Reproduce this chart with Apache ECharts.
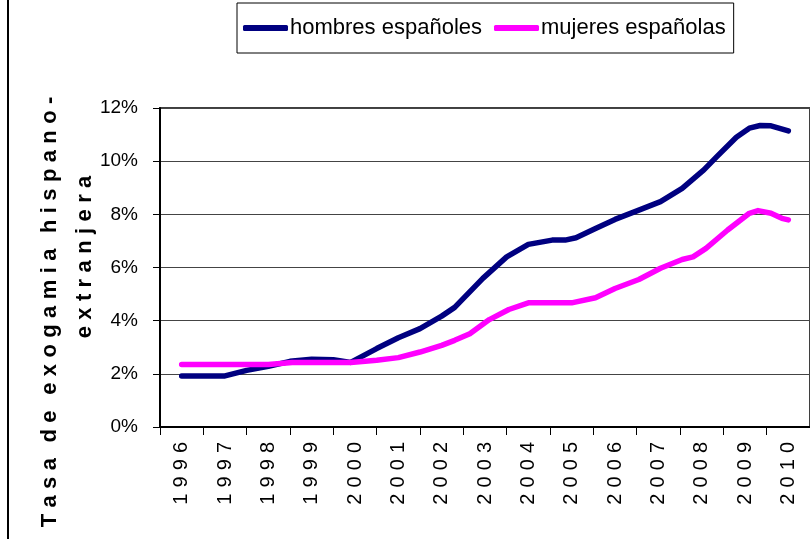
<!DOCTYPE html>
<html>
<head>
<meta charset="utf-8">
<script src="https://cdn.jsdelivr.net/npm/echarts@6/dist/echarts.min.js"></script>
<style>
html, body { margin: 0; padding: 0; background: #fff; }
#chart { width: 810px; height: 539px; }
</style>
</head>
<body>
<div id="chart"></div>
<script>
// year labels on the category axis
var years = ['1996', '1997', '1998', '1999', '2000', '2001', '2002', '2003',
  '2004', '2005', '2006', '2007', '2008', '2009', '2010'];

// hombres españoles: time (year) and tasa (%)
var hombresT = [1996, 1997, 1997.5, 1998, 1998.5, 1999, 1999.5, 1999.9, 2000.5, 2001,
  2001.5, 2002, 2002.3, 2002.95, 2003.5, 2004, 2004.55, 2004.85, 2005.1, 2005.55,
  2006, 2006.55, 2007.05, 2007.55, 2008.05, 2008.35, 2008.8, 2009.1, 2009.35, 2009.6, 2010];
var hombresV = [1.92, 1.92, 2.13, 2.28, 2.47, 2.55, 2.53, 2.43, 2.95, 3.36,
  3.70, 4.17, 4.50, 5.59, 6.40, 6.87, 7.03, 7.03, 7.12, 7.47,
  7.81, 8.16, 8.48, 8.98, 9.67, 10.17, 10.90, 11.24, 11.34, 11.33, 11.14];

// mujeres españolas
var mujeresT = [1996, 1998, 1998.55, 1999.9, 2000.5, 2001, 2001.5, 2002, 2002.3, 2002.65,
  2003.1, 2003.55, 2004, 2005, 2005.55, 2006, 2006.55, 2007.05, 2007.55, 2007.8,
  2008.1, 2008.6, 2009.1, 2009.3, 2009.6, 2009.85, 2010];
var mujeresV = [2.35, 2.35, 2.43, 2.43, 2.51, 2.61, 2.82, 3.07, 3.26, 3.51,
  4.04, 4.42, 4.67, 4.67, 4.86, 5.21, 5.55, 5.97, 6.30, 6.40,
  6.72, 7.41, 8.04, 8.14, 8.04, 7.85, 7.79];

var font = "'Liberation Sans', Arial, sans-serif";

function pairs(t, v) {
  return t.map(function (x, i) { return [x, v[i]]; });
}
// letter-spaced text: {g| } between letters, {w| } between words
function spaced(s) {
  return s.split(' ').map(function (w) {
    return w.split('').join('{g| }');
  }).join('{w| }');
}

var titleRich = {
  g: { fontSize: 23, fontWeight: 'bold', fontFamily: font, lineHeight: 26 },
  w: { fontSize: 56, fontWeight: 'bold', fontFamily: font, lineHeight: 26 }
};

var chart = echarts.init(document.getElementById('chart'));
chart.setOption({
  animation: false,
  backgroundColor: '#fff',
  legend: {
    left: 237,
    top: 3,
    padding: [14, 8, 14, 6],
    itemWidth: 45,
    itemHeight: 6,
    itemGap: 12,
    icon: 'roundRect',
    borderColor: '#000',
    borderWidth: 1,
    textStyle: { fontSize: 22, fontFamily: font, color: '#000', padding: [0, 0, 0, -3] },
    data: ['hombres españoles', 'mujeres españolas']
  },
  grid: {
    left: 160,
    right: 0,
    top: 108,
    bottom: 112,
    show: true,
    borderColor: '#000',
    borderWidth: 1.5
  },
  xAxis: [
    {
      type: 'category',
      data: years,
      boundaryGap: true,
      axisLine: { lineStyle: { color: '#000', width: 2 } },
      axisTick: { show: true, length: 8, lineStyle: { color: '#000' } },
      axisLabel: {
        rotate: 90,
        margin: 15,
        fontSize: 20,
        fontFamily: font,
        color: '#000',
        formatter: function (v) { return spaced(v); },
        rich: { g: { fontSize: 22, fontFamily: font, lineHeight: 22 } }
      },
      splitLine: { show: false }
    },
    {
      type: 'value',
      min: 1995.5,
      max: 2010.5,
      show: false
    }
  ],
  yAxis: {
    type: 'value',
    min: 0,
    max: 12,
    interval: 2,
    axisLine: { show: true, lineStyle: { color: '#000', width: 2 } },
    axisTick: { show: true, length: 7, lineStyle: { color: '#000' } },
    axisLabel: {
      margin: 22,
      fontSize: 19,
      fontFamily: font,
      color: '#000',
      formatter: '{value}%'
    },
    splitLine: { lineStyle: { color: '#444', width: 1 } }
  },
  graphic: [
    {
      type: 'line',
      shape: { x1: 8, y1: 0, x2: 8, y2: 539 },
      style: { stroke: '#000', lineWidth: 2 }
    },
    {
      type: 'text',
      x: 50,
      y: 312,
      rotation: Math.PI / 2,
      style: {
        text: spaced('Tasa de exogamia hispano-'),
        fontSize: 22,
        fontWeight: 'bold',
        fontFamily: font,
        fill: '#000',
        align: 'center',
        verticalAlign: 'middle',
        lineHeight: 26,
        rich: titleRich
      }
    },
    {
      type: 'text',
      x: 85,
      y: 257,
      rotation: Math.PI / 2,
      style: {
        text: spaced('extranjera'),
        fontSize: 22,
        fontWeight: 'bold',
        fontFamily: font,
        fill: '#000',
        align: 'center',
        verticalAlign: 'middle',
        lineHeight: 26,
        rich: titleRich
      }
    }
  ],
  series: [
    {
      name: 'hombres españoles',
      type: 'line',
      xAxisIndex: 1,
      showSymbol: false,
      data: pairs(hombresT, hombresV),
      itemStyle: { color: '#000080' },
      lineStyle: { color: '#000080', width: 5.5, cap: 'round', join: 'round' }
    },
    {
      name: 'mujeres españolas',
      type: 'line',
      xAxisIndex: 1,
      showSymbol: false,
      data: pairs(mujeresT, mujeresV),
      itemStyle: { color: '#ff00ff' },
      lineStyle: { color: '#ff00ff', width: 5.5, cap: 'round', join: 'round' }
    }
  ]
});
</script>
</body>
</html>
